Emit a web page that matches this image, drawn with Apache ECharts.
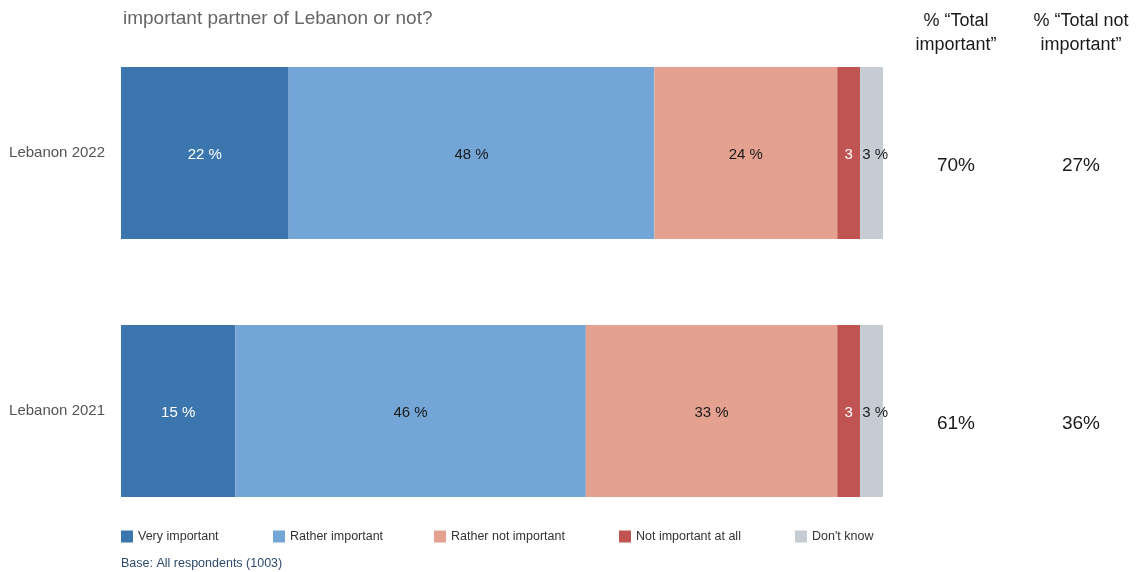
<!DOCTYPE html>
<html>
<head>
<meta charset="utf-8">
<script src="https://cdn.jsdelivr.net/npm/echarts@6/dist/echarts.min.js"></script>
<style>
  html, body { margin: 0; padding: 0; background: #fff; }
  #chart { width: 1140px; height: 572px; }
</style>
</head>
<body>
<div id="chart"></div>
<script>
// Survey answers, shares in percent per year
const categories = ['Lebanon 2022', 'Lebanon 2021'];
const seriesNames = ['Very important', 'Rather important', 'Rather not important', 'Not important at all', "Don't know"];
const veryImportant = [22, 15];
const ratherImportant = [48, 46];
const ratherNotImportant = [24, 33];
const notImportantAtAll = [3, 3];
const dontKnow = [3, 3];
const totalImportant = [70, 61];
const totalNotImportant = [27, 36];
const columnHeaders = ['% \u201cTotal\nimportant\u201d', '% \u201cTotal not\nimportant\u201d'];

const FONT = '"Liberation Sans", Arial, Helvetica, sans-serif';
const colors = ['#3b77ae', '#73a6d6', '#e5a18f', '#c05453', '#c6ccd3'];
const labelColors = ['#ffffff', '#1a1a1a', '#1a1a1a', '#ffffff', '#1a1a1a'];
const values = [veryImportant, ratherImportant, ratherNotImportant, notImportantAtAll, dontKnow];

const chart = echarts.init(document.getElementById('chart'), null, { renderer: 'canvas' });

const series = seriesNames.map((name, i) => ({
  name: name,
  type: 'bar',
  stack: 'total',
  barCategoryGap: '33.3%',
  data: values[i],
  itemStyle: { color: colors[i] },
  emphasis: { disabled: true },
  label: {
    show: true,
    position: i === 4 ? 'insideLeft' : 'inside',
    distance: 2,
    offset: [0, 2],
    color: labelColors[i],
    fontFamily: FONT,
    fontSize: 15,
    formatter: p => (i === 3 ? String(p.value) : p.value + ' %')
  }
}));

const legendLefts = [121, 273, 434, 619, 795];
const legends = seriesNames.map((name, i) => ({
  data: [name],
  left: legendLefts[i],
  top: 530,
  padding: 0,
  itemWidth: 12,
  itemHeight: 12,
  itemGap: 7,
  icon: 'rect',
  textStyle: { fontFamily: FONT, fontSize: 12.5, color: '#333' }
}));

// Right-hand total columns: an empty first line pushes each value a little below the bar centre
const sideAxis = (data, margin) => ({
  type: 'category',
  data: data,
  inverse: true,
  position: 'right',
  axisLine: { show: false },
  axisTick: { show: false },
  splitLine: { show: false },
  axisLabel: {
    margin: margin,
    align: 'center',
    lineHeight: 26,
    formatter: v => '\n' + v,
    fontFamily: FONT,
    fontSize: 19,
    color: '#1a1a1a'
  }
});

chart.setOption({
  animation: false,
  backgroundColor: '#ffffff',
  title: {
    text: 'important partner of Lebanon or not?',
    left: 123,
    top: 9,
    padding: 0,
    textStyle: { fontFamily: FONT, fontSize: 19, fontWeight: 'normal', color: '#666666' }
  },
  legend: legends,
  grid: { left: 121, right: 257, top: 24, bottom: 32, containLabel: false },
  xAxis: { type: 'value', min: 0, max: 100, show: false },
  yAxis: [
    {
      type: 'category',
      data: categories,
      inverse: true,
      axisLine: { show: false },
      axisTick: { show: false },
      axisLabel: { margin: 16, padding: [4, 0, 0, 0], fontFamily: FONT, fontSize: 15, color: '#555555' }
    },
    sideAxis(totalImportant.map(v => v + '%'), 73),
    sideAxis(totalNotImportant.map(v => v + '%'), 198)
  ],
  graphic: [
    {
      type: 'text', x: 956, y: 9,
      style: { text: columnHeaders[0], align: 'center', verticalAlign: 'top', font: '18px ' + FONT, lineHeight: 24, fill: '#1a1a1a' }
    },
    {
      type: 'text', x: 1081, y: 9,
      style: { text: columnHeaders[1], align: 'center', verticalAlign: 'top', font: '18px ' + FONT, lineHeight: 24, fill: '#1a1a1a' }
    },
    {
      type: 'text', x: 121, y: 557,
      style: { text: 'Base: All respondents (1003)', font: '12.5px ' + FONT, fill: '#2c4a6b' }
    }
  ],
  series: series
});
</script>
</body>
</html>
